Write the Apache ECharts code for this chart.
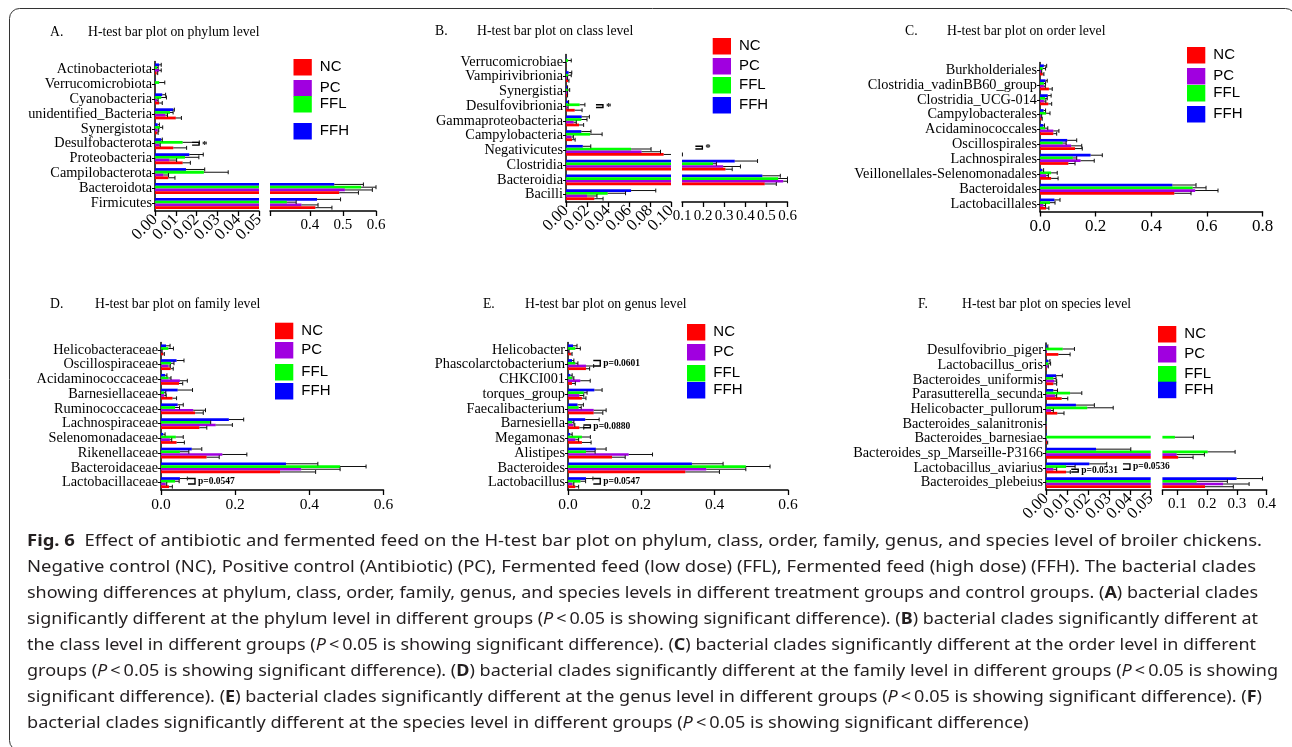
<!DOCTYPE html>
<html><head><meta charset="utf-8">
<script src="https://cdn.jsdelivr.net/npm/echarts@6.0.0/dist/echarts.min.js"></script>
<style>html,body{margin:0;padding:0;background:#fff;}#chart{width:1292px;height:747px;}</style>
</head><body><div id="chart"></div>
<script>
// ---------------- DATA ----------------
// Panel A: phylum
const phylumCategories = ['Actinobacteriota','Verrucomicrobiota','Cyanobacteria','unidentified_Bacteria','Synergistota','Desulfobacterota','Proteobacteria','Campilobacterota','Bacteroidota','Firmicutes'];
const phylumNC   = [0.0008, 0.0001, 0.002, 0.010, 0.001, 0.0088, 0.0133, 0.0064, 0.489, 0.417];
const phylumNCsd = [0.0005, 0, 0.0015, 0.0027, 0.0005, 0.0064, 0.0037, 0.0032, 0.058, 0.050];
const phylumPC   = [0.002, 0.0001, 0.001, 0.005, 0.0013, 0.002, 0.0069, 0.004, 0.506, 0.375];
const phylumPCsd = [0.001, 0, 0.0005, 0.001, 0.0005, 0.0005, 0.0035, 0.0025, 0.083, 0.050];
const phylumFFL   = [0.001, 0.002, 0.003, 0.0072, 0.0024, 0.0133, 0.0144, 0.0235, 0.555, 0.331];
const phylumFFLsd = [0.0005, 0.0027, 0.0025, 0.0015, 0.0013, 0.008, 0.0067, 0.0117, 0.045, 0.028];
const phylumFFH   = [0.002, 0.0002, 0.0035, 0.0088, 0.0013, 0.003, 0.0165, 0.0149, 0.474, 0.422];
const phylumFFHsd = [0.001, 0, 0.0016, 0.0005, 0.0008, 0.0005, 0.0067, 0.009, 0.088, 0.071];
const phylumLabelsLow = [0, 0.01, 0.02, 0.03, 0.04, 0.05];
const phylumTicksHigh = [0.28, 0.4, 0.5, 0.6];
const phylumLabelsHigh = [0.4, 0.5, 0.6];
const phylumNotes = [{cat:'Desulfobacterota', x:0.0212, from:'FFL', to:'PC', text:'*', seg:0}];

// Panel B: class
const classCategories = ['Verrucomicrobiae','Vampirivibrionia','Synergistia','Desulfovibrionia','Gammaproteobacteria','Campylobacteria','Negativicutes','Clostridia','Bacteroidia','Bacilli'];
const classNC   = [0.0002, 0.002, 0.001, 0.0083, 0.0124, 0.0057, 0.093, 0.306, 0.492, 0.027];
const classNCsd = [0, 0.0008, 0.0005, 0.007, 0.0044, 0.003, 0.009, 0.032, 0.055, 0.0083];
const classPC   = [0.0002, 0.001, 0.001, 0.0015, 0.0073, 0.005, 0.072, 0.295, 0.58, 0.020];
const classPCsd = [0, 0.0005, 0.0005, 0.0005, 0.0025, 0.002, 0.018, 0.082, 0.02, 0.0095];
const classFFL   = [0.002, 0.002, 0.002, 0.013, 0.0146, 0.023, 0.062, 0.247, 0.556, 0.0397];
const classFFLsd = [0.003, 0.003, 0.0015, 0.005, 0.0054, 0.0114, 0.019, 0.016, 0.044, 0.017];
const classFFH   = [0.0003, 0.0025, 0.001, 0.002, 0.015, 0.0146, 0.016, 0.35, 0.481, 0.062];
const classFFHsd = [0, 0.003, 0.0005, 0.0005, 0.0073, 0.0092, 0.0076, 0.108, 0.085, 0.0235];
const classLabelsLow = [0, 0.02, 0.04, 0.06, 0.08, 0.10];
const classNotes = [
  {cat:'Desulfovibrionia', x:0.0352, from:'FFL', to:'PC', text:'*', seg:0},
  {cat:'Negativicutes', x:0.1965, from:'FFH', to:'FFL', text:'*', seg:1}
];

// Panel C: order
const orderCategories = ['Burkholderiales','Clostridia_vadinBB60_group','Clostridia_UCG-014','Campylobacterales','Acidaminococcales','Oscillospirales','Lachnospirales','Veillonellales-Selenomonadales','Bacteroidales','Lactobacillales'];
const orderNC   = [0.010, 0.032, 0.030, 0.006, 0.048, 0.126, 0.102, 0.040, 0.483, 0.022];
const orderNCsd = [0.004, 0.012, 0.012, 0.002, 0.012, 0.026, 0.024, 0.025, 0.060, 0.010];
const orderPC   = [0.004, 0.014, 0.014, 0.004, 0.048, 0.112, 0.146, 0.022, 0.558, 0.012];
const orderPCsd = [0.002, 0.005, 0.007, 0.002, 0.020, 0.038, 0.049, 0.008, 0.082, 0.008];
const orderFFL   = [0.010, 0.014, 0.018, 0.022, 0.018, 0.082, 0.118, 0.040, 0.549, 0.036];
const orderFFLsd = [0.010, 0.006, 0.008, 0.014, 0.010, 0.012, 0.014, 0.022, 0.048, 0.018];
const orderFFH   = [0.014, 0.020, 0.028, 0.013, 0.012, 0.098, 0.182, 0.008, 0.476, 0.052];
const orderFFHsd = [0.010, 0.006, 0.012, 0.007, 0.004, 0.034, 0.042, 0.005, 0.085, 0.020];
const orderNotes = [];

// Panel D: family
const familyCategories = ['Helicobacteraceae','Oscillospiraceae','Acidaminococcaceae','Barnesiellaceae','Ruminococcaceae','Lachnospiraceae','Selenomonadaceae','Rikenellaceae','Bacteroidaceae','Lactobacillaceae'];
const familyNC   = [0.006, 0.026, 0.0486, 0.031, 0.092, 0.1035, 0.042, 0.123, 0.321, 0.0216];
const familyNCsd = [0.003, 0.007, 0.010, 0.011, 0.022, 0.020, 0.021, 0.034, 0.096, 0.009];
const familyPC   = [0.002, 0.020, 0.051, 0.009, 0.087, 0.1475, 0.024, 0.1655, 0.378, 0.0125];
const familyPCsd = [0.001, 0.005, 0.020, 0.005, 0.033, 0.045, 0.005, 0.066, 0.105, 0.003];
const familyFFL   = [0.020, 0.027, 0.020, 0.008, 0.038, 0.132, 0.040, 0.051, 0.483, 0.038];
const familyFFLsd = [0.0135, 0.008, 0.007, 0.005, 0.012, 0.002, 0.020, 0.024, 0.070, 0.011];
const familyFFH   = [0.0135, 0.042, 0.011, 0.045, 0.045, 0.183, 0.006, 0.083, 0.337, 0.051];
const familyFFHsd = [0.011, 0.020, 0.005, 0.040, 0.015, 0.040, 0.005, 0.027, 0.086, 0.020];
const familyNotes = [{cat:'Lactobacillaceae', x:0.0917, from:'FFH', to:'PC', text:'p=0.0547', seg:0}];

// Panel E: genus
const genusCategories = ['Helicobacter','Phascolarctobacterium','CHKCI001','torques_group','Faecalibacterium','Barnesiella','Megamonas','Alistipes','Bacteroides','Lactobacillus'];
const genusNC   = [0.008, 0.049, 0.011, 0.038, 0.070, 0.031, 0.038, 0.120, 0.320, 0.020];
const genusNCsd = [0.003, 0.010, 0.009, 0.011, 0.025, 0.012, 0.025, 0.036, 0.093, 0.009];
const genusPC   = [0.002, 0.049, 0.0336, 0.031, 0.070, 0.0136, 0.020, 0.1655, 0.377, 0.011];
const genusPCsd = [0.001, 0.021, 0.027, 0.012, 0.034, 0.005, 0.009, 0.065, 0.108, 0.005];
const genusFFL   = [0.020, 0.020, 0.011, 0.043, 0.029, 0.011, 0.038, 0.049, 0.485, 0.034];
const genusFFLsd = [0.0136, 0.007, 0.005, 0.009, 0.007, 0.005, 0.023, 0.025, 0.066, 0.014];
const genusFFH   = [0.0136, 0.011, 0.0064, 0.072, 0.026, 0.047, 0.0064, 0.076, 0.338, 0.049];
const genusFFHsd = [0.011, 0.005, 0.005, 0.021, 0.016, 0.038, 0.005, 0.028, 0.085, 0.019];
const genusNotes = [
  {cat:'Phascolarctobacterium', x:0.088, from:'FFH', to:'PC', text:'p=0.0601', seg:0},
  {cat:'Barnesiella', x:0.061, from:'PC', to:'NC', text:'p=0.0880', seg:0},
  {cat:'Lactobacillus', x:0.088, from:'FFH', to:'PC', text:'p=0.0547', seg:0}
];

// Panel F: species
const speciesCategories = ['Desulfovibrio_piger','Lactobacillus_oris','Bacteroides_uniformis','Parasutterella_secunda','Helicobacter_pullorum','Bacteroides_salanitronis','Bacteroides_barnesiae','Bacteroides_sp_Marseille-P3166','Lactobacillus_aviarius','Bacteroides_plebeius'];
const speciesNC   = [0.0059, 0.0003, 0.0035, 0.0075, 0.0054, 0.0003, 0.0005, 0.103, 0.0096, 0.193];
const speciesNCsd = [0.0056, 0, 0.0016, 0.0029, 0.0032, 0, 0.0003, 0.050, 0.002, 0.095];
const speciesPC   = [0.0003, 0.0008, 0.004, 0.0043, 0.0024, 0.0002, 0.0003, 0.098, 0.0035, 0.254];
const speciesPCsd = [0, 0.0003, 0.0011, 0.0008, 0.0011, 0, 0, 0.093, 0.0016, 0.087];
const speciesFFL   = [0.008, 0.0011, 0.0035, 0.0115, 0.0197, 0.0002, 0.092, 0.202, 0.0096, 0.165];
const speciesFFLsd = [0.0056, 0.0011, 0.0013, 0.0056, 0.0124, 0, 0.062, 0.092, 0.0043, 0.103];
const speciesFFH   = [0.0006, 0.0011, 0.0048, 0.0035, 0.0143, 0.0002, 0.0003, 0.0239, 0.0207, 0.299];
const speciesFFHsd = [0.0003, 0.0008, 0.003, 0.002, 0.0088, 0, 0, 0.0166, 0.0083, 0.087];
const speciesLabelsLow = [0, 0.01, 0.02, 0.03, 0.04, 0.05];
const speciesTicksHigh = [0.05, 0.1, 0.2, 0.3, 0.4];
const speciesLabelsHigh = [0.1, 0.2, 0.3, 0.4];
const speciesNotes = [
  {cat:'Lactobacillus_aviarius', x:0.0154, from:'PC', to:'NC', text:'p=0.0531', seg:0},
  {cat:'Lactobacillus_aviarius', x:0.0401, from:'FFH', to:'PC', text:'p=0.0536', seg:0}
];

const groupNames = ['NC', 'PC', 'FFL', 'FFH'];

// Caption
const captionLines = [
  [['Fig. 6','b'], ['  Effect of antibiotic and fermented feed on the H-test bar plot on phylum, class, order, family, genus, and species level of broiler chickens.']],
  [['Negative control (NC), Positive control (Antibiotic) (PC), Fermented feed (low dose) (FFL), Fermented feed (high dose) (FFH). The bacterial clades']],
  [['showing differences at phylum, class, order, family, genus, and species levels in different treatment groups and control groups. ('], ['A','b'], [') bacterial clades']],
  [['significantly different at the phylum level in different groups ('], ['P','i'], ['\u2009<\u20090.05 is showing significant difference). ('], ['B','b'], [') bacterial clades significantly different at']],
  [['the class level in different groups ('], ['P','i'], ['\u2009<\u20090.05 is showing significant difference). ('], ['C','b'], [') bacterial clades significantly different at the order level in different']],
  [['groups ('], ['P','i'], ['\u2009<\u20090.05 is showing significant difference). ('], ['D','b'], [') bacterial clades significantly different at the family level in different groups ('], ['P','i'], ['\u2009<\u20090.05 is showing']],
  [['significant difference). ('], ['E','b'], [') bacterial clades significantly different at the genus level in different groups ('], ['P','i'], ['\u2009<\u20090.05 is showing significant difference). ('], ['F','b'], [')']],
  [['bacterial clades significantly different at the species level in different groups ('], ['P','i'], ['\u2009<\u20090.05 is showing significant difference)']]
];

// ---------------- LAYOUT / STYLE ----------------
const SERIF = '"Liberation Serif", "Times New Roman", serif';
const SANS = '"Liberation Sans", Arial, sans-serif';
const CAPFONT = '"Noto Sans", "Open Sans", sans-serif';
const GROUP_ORDER = ['FFH', 'FFL', 'PC', 'NC']; // top to bottom inside a category
const GROUP_COLORS = {NC:'#ff0000', PC:'#a000e0', FFL:'#00ff00', FFH:'#0000ff'};
const CAT_GAP = 0.26;
const CAT_FONT = 14.3;

const panels = [
  {title:['A.','H-test bar plot on phylum level'], tpos:[50, 88, 33], cats:phylumCategories,
   data:{mean:{NC:phylumNC,PC:phylumPC,FFL:phylumFFL,FFH:phylumFFH}, sd:{NC:phylumNCsd,PC:phylumPCsd,FFL:phylumFFLsd,FFH:phylumFFHsd}},
   segs:[{rect:[155,61.5,104,149.5], min:0, max:0.05, interval:0.01, rotLabels:phylumLabelsLow, digits:2, rotate:45, fs:16.5},
         {rect:[270,61.5,106,149.5], min:0.28, max:0.6, ticks:phylumTicksHigh, labels:phylumLabelsHigh, digits:1, rotate:0, fs:15}],
   notes:phylumNotes, legend:{x:293.5, ys:{NC:59, PC:80, FFL:96, FFH:123}}},
  {title:['B.','H-test bar plot on class level'], tpos:[435, 477, 32], cats:classCategories,
   data:{mean:{NC:classNC,PC:classPC,FFL:classFFL,FFH:classFFH}, sd:{NC:classNCsd,PC:classPCsd,FFL:classFFLsd,FFH:classFFHsd}},
   segs:[{rect:[566,54.5,105,147.5], min:0, max:0.1, interval:0.02, rotLabels:classLabelsLow, digits:2, rotate:45, fs:16.5},
         {rect:[682,54.5,105.5,147.5], min:0.1, max:0.6, interval:0.1, digits:1, rotate:0, fs:15}],
   notes:classNotes, legend:{x:712.7, ys:{NC:38, PC:58, FFL:77, FFH:97}}},
  {title:['C.','H-test bar plot on order level'], tpos:[905, 947, 32], cats:orderCategories,
   data:{mean:{NC:orderNC,PC:orderPC,FFL:orderFFL,FFH:orderFFH}, sd:{NC:orderNCsd,PC:orderPCsd,FFL:orderFFLsd,FFH:orderFFHsd}},
   segs:[{rect:[1040,62.5,222.5,149], min:0, max:0.8, interval:0.2, digits:1, rotate:0, fs:17}],
   notes:orderNotes, legend:{x:1187, ys:{NC:47, PC:68, FFL:85, FFH:106}}},
  {title:['D.','H-test bar plot on family level'], tpos:[50, 95, 305], cats:familyCategories,
   data:{mean:{NC:familyNC,PC:familyPC,FFL:familyFFL,FFH:familyFFH}, sd:{NC:familyNCsd,PC:familyPCsd,FFL:familyFFLsd,FFH:familyFFHsd}},
   segs:[{rect:[161,342.5,222.5,147.5], min:0, max:0.6, interval:0.2, digits:1, rotate:0, fs:15.5}],
   notes:familyNotes, legend:{x:275, ys:{NC:322.7, PC:342, FFL:364, FFH:383}}},
  {title:['E.','H-test bar plot on genus level'], tpos:[483, 525, 305], cats:genusCategories,
   data:{mean:{NC:genusNC,PC:genusPC,FFL:genusFFL,FFH:genusFFH}, sd:{NC:genusNCsd,PC:genusPCsd,FFL:genusFFLsd,FFH:genusFFHsd}},
   segs:[{rect:[568,342.5,220,147.5], min:0, max:0.6, interval:0.2, digits:1, rotate:0, fs:15.5}],
   notes:genusNotes, legend:{x:687, ys:{NC:324, PC:344, FFL:365, FFH:382}}},
  {title:['F.','H-test bar plot on species level'], tpos:[918, 962, 305], cats:speciesCategories,
   data:{mean:{NC:speciesNC,PC:speciesPC,FFL:speciesFFL,FFH:speciesFFH}, sd:{NC:speciesNCsd,PC:speciesPCsd,FFL:speciesFFLsd,FFH:speciesFFHsd}},
   segs:[{rect:[1046,343,104.7,147], min:0, max:0.05, interval:0.01, rotLabels:speciesLabelsLow, digits:2, rotate:45, fs:16.5},
         {rect:[1162.4,343,104.3,147], min:0.05, max:0.4, ticks:speciesTicksHigh, labels:speciesLabelsHigh, digits:1, rotate:0, fs:15}],
   notes:speciesNotes, legend:{x:1158, ys:{NC:326, PC:346, FFL:366, FFH:381.7}}}
];

const option = {animation:false, backgroundColor:'#ffffff', title:[], legend:[], grid:[], xAxis:[], yAxis:[], series:[], graphic:[]};

function barGeom(api, centerY, k) {
  const band = api.size([0, 1])[1];
  const total = band * (1 - CAT_GAP);
  const w = total / 4;
  return {y: centerY - total / 2 + w * (k + 0.5), w: w};
}

function renderErr(params, api) {
  const m = api.value(0), sd = api.value(1), c = api.value(2), k = api.value(3);
  const p0 = api.coord([m, c]);
  const p1 = api.coord([m + sd, c]);
  const g = barGeom(api, p0[1], k);
  const cs = params.coordSys;
  const xmin = cs.x, xmax = cs.x + cs.width;
  if (p1[0] < xmin - 0.01 || p0[0] > xmax + 0.01) return null;
  const xa = Math.max(p0[0], xmin), xb = Math.min(p1[0], xmax);
  const st = {stroke:'#111', lineWidth:1};
  const children = [{type:'line', shape:{x1:xa, y1:g.y, x2:xb, y2:g.y}, style:st}];
  if (p1[0] >= xmin - 0.01 && p1[0] <= xmax + 0.01) {
    children.push({type:'line', shape:{x1:p1[0], y1:g.y - g.w/2 - 0.6, x2:p1[0], y2:g.y + g.w/2 + 0.6}, style:st});
  }
  return {type:'group', children: children};
}

function makeNoteRenderer(notes) {
  return function (params, api) {
    const n = notes[params.dataIndex];
    const p = api.coord([api.value(0), api.value(1)]);
    const a = barGeom(api, p[1], GROUP_ORDER.indexOf(n.from));
    const b = barGeom(api, p[1], GROUP_ORDER.indexOf(n.to));
    const L = 7;
    const star = n.text === '*';
    return {type:'group', children:[
      {type:'polyline', shape:{points:[[p[0]-L, a.y],[p[0], a.y],[p[0], b.y],[p[0]-L, b.y]]}, style:{stroke:'#000', lineWidth:1.4, fill:null}},
      {type:'text', x:p[0] + 3, y:(a.y + b.y)/2 + (star ? 1 : 0),
       style:{text:n.text, fontFamily:SERIF, fontWeight:'bold', fontSize: star ? 11 : 9.5, fill:'#000', align:'left', verticalAlign:'middle'}}
    ]};
  };
}

function labelStyle(S) {
  return {rotate:S.rotate, fontFamily:SERIF, fontSize:S.fs, color:'#000', margin:S.rotate ? 6 : 7,
    showMinLabel:true, showMaxLabel:true, hideOverlap:false,
    formatter:function (v) { return Number(v).toFixed(S.digits); }};
}

panels.forEach(function (P) {
  const tStyle = {fontFamily:SERIF, fontSize:13.7, fontWeight:'normal', color:'#000'};
  option.title.push({text:P.title[0], left:P.tpos[0], top:P.tpos[2]-8, padding:0, textStyle:tStyle});
  option.title.push({text:P.title[1], left:P.tpos[1], top:P.tpos[2]-8, padding:0, textStyle:tStyle});
  P.segs.forEach(function (S, si) {
    const gi = option.grid.length;
    option.grid.push({left:S.rect[0], top:S.rect[1], width:S.rect[2], height:S.rect[3], containLabel:false, outerBoundsMode:'none'});
    const xi = option.xAxis.length;
    const xa = {gridIndex:gi, type:'value', position:'bottom', min:S.min, max:S.max,
      splitLine:{show:false},
      axisLine:{show:true, onZero:false, lineStyle:{color:'#000', width:1.5}},
      axisTick:{show:true, length:5, lineStyle:{color:'#000', width:1.3}},
      axisLabel:labelStyle(S)};
    if (S.interval) xa.interval = S.interval;
    if (S.ticks) { xa.axisTick.customValues = S.ticks; xa.axisLabel.customValues = S.labels; }
    if (S.rotLabels) {
      // alternate labels split over two overlaid axes so that rotated labels are never auto-hidden
      xa.axisLabel.customValues = S.rotLabels.filter(function (v, i) { return i % 2 === 0; });
      const xb = {gridIndex:gi, type:'value', position:'bottom', offset:0, min:S.min, max:S.max,
        splitLine:{show:false}, axisLine:{show:false}, axisTick:{show:false}, axisLabel:labelStyle(S)};
      xb.axisLabel.customValues = S.rotLabels.filter(function (v, i) { return i % 2 === 1; });
      option.xAxis.push(xa);
      option.xAxis.push(xb);
    } else {
      option.xAxis.push(xa);
    }
    const yi = option.yAxis.length;
    option.yAxis.push({gridIndex:gi, type:'category', data:P.cats, inverse:true, show: si === 0,
      axisLine:{show:true, onZero:false, lineStyle:{color:'#000', width:1.5}},
      axisTick:{show:true, length:3, alignWithLabel:true, lineStyle:{color:'#000'}},
      axisLabel:{interval:0, fontFamily:SERIF, fontSize:CAT_FONT, color:'#000', margin:3}});
    GROUP_ORDER.forEach(function (g) {
      option.series.push({type:'bar', name:g, xAxisIndex:xi, yAxisIndex:yi, data:P.data.mean[g],
        barGap:'0%', barCategoryGap:(CAT_GAP*100)+'%', itemStyle:{color:GROUP_COLORS[g]}, clip:true, silent:true});
    });
    const eb = [];
    P.cats.forEach(function (c, i) {
      GROUP_ORDER.forEach(function (g, k) {
        if (P.data.sd[g][i] > 0) eb.push([P.data.mean[g][i], P.data.sd[g][i], i, k]);
      });
    });
    option.series.push({type:'custom', name:'sd', xAxisIndex:xi, yAxisIndex:yi, data:eb,
      encode:{x:0, y:2}, renderItem:renderErr, silent:true, z:3});
    const notes = P.notes.filter(function (n) { return n.seg === si; });
    if (notes.length) {
      option.series.push({type:'custom', name:'sig', xAxisIndex:xi, yAxisIndex:yi,
        data:notes.map(function (n) { return [n.x, P.cats.indexOf(n.cat)]; }),
        encode:{x:0, y:1}, renderItem:makeNoteRenderer(notes), silent:true, z:4});
    }
  });
  groupNames.forEach(function (g) {
    option.legend.push({data:[g], left:P.legend.x, top:P.legend.ys[g], icon:'rect', itemWidth:18.3, itemHeight:16.5,
      padding:0, itemGap:0, selectedMode:false,
      textStyle:{fontFamily:SANS, fontSize:15, color:'#000', padding:[0,0,0,3]}});
  });
});

// caption
(function () {
  const ctx = document.createElement('canvas').getContext('2d');
  const size = 15.5;
  const rights = [1262, 1256, 1258, 1258, 1256, 1278, 1262, null];
  const widths = captionLines.map(function (segs) {
    let w = 0;
    segs.forEach(function (s) {
      ctx.font = (s[1] === 'i' ? 'italic ' : '') + (s[1] === 'b' ? 'bold ' : '') + size + 'px ' + CAPFONT;
      w += ctx.measureText(s[0]).width;
    });
    return w;
  });
  let sum = 0, cnt = 0;
  rights.forEach(function (r, i) { if (r) { sum += (r - 27) / widths[i]; cnt++; } });
  const meanScale = sum / cnt;
  captionLines.forEach(function (segs, li) {
    const sx = rights[li] ? (rights[li] - 27) / widths[li] : meanScale;
    const text = segs.map(function (s) { return s[1] ? '{' + s[1] + '|' + s[0] + '}' : s[0]; }).join('');
    option.graphic.push({type:'text', x:27, y:542 + li*26, scaleX:sx, silent:true,
      style:{text:text, fontFamily:CAPFONT, fontSize:size, fill:'#231f20', verticalAlign:'middle', align:'left',
        rich:{
          b:{fontFamily:CAPFONT, fontSize:size, fontWeight:'bold', fill:'#231f20'},
          i:{fontFamily:CAPFONT, fontSize:size, fontStyle:'italic', fill:'#231f20'}
        }}});
  });
  option.graphic.push({type:'rect', silent:true, shape:{x:9.5, y:8.5, width:1286, height:742, r:10},
    style:{fill:'none', stroke:'#333', lineWidth:1}});
})();

const chart = echarts.init(document.getElementById('chart'), null, {renderer:'canvas'});
chart.setOption(option);
</script></body></html>
